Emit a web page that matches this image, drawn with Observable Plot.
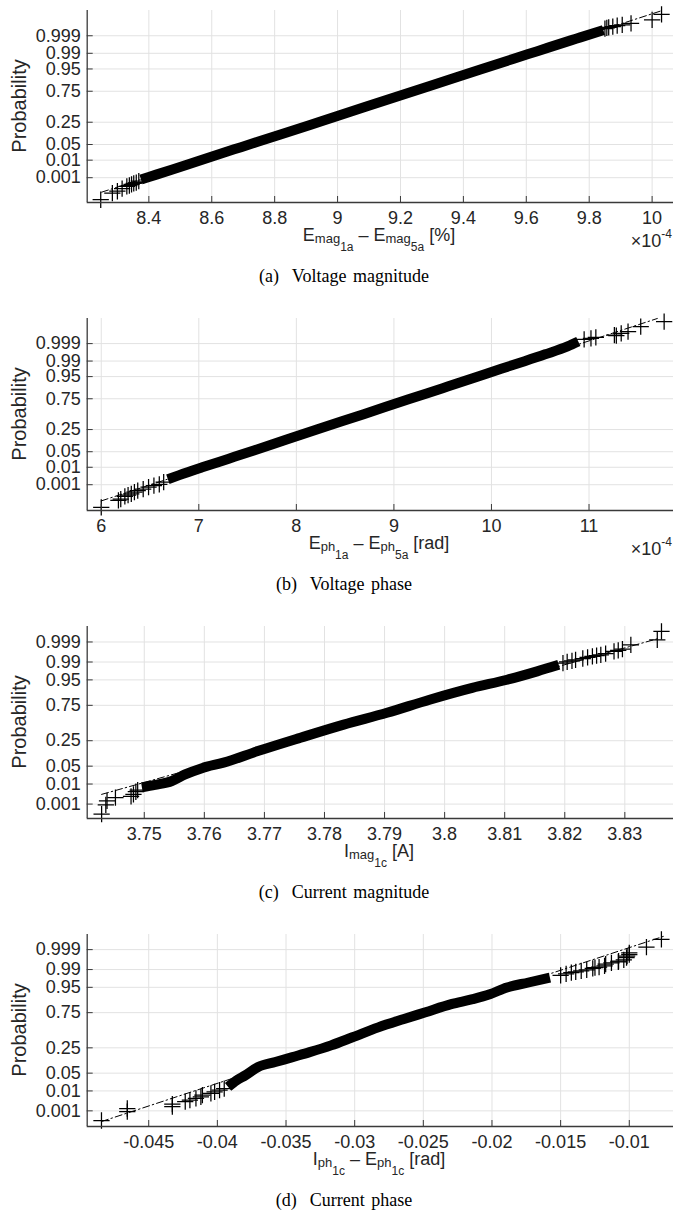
<!DOCTYPE html>
<html><head><meta charset="utf-8">
<script src="https://cdn.jsdelivr.net/npm/d3@7"></script>
<script src="https://cdn.jsdelivr.net/npm/@observablehq/plot@0.6"></script>
<style>
body{margin:0;background:#fff;width:673px;height:1212px;overflow:hidden}
.panel{position:relative;width:673px;height:308px}
.panel svg{position:absolute;left:0;top:0}
.yl{position:absolute;left:19px;top:106px;transform:translate(-50%,-50%) rotate(-90deg);font:20px "Liberation Sans",Arial,sans-serif;color:#262626;white-space:nowrap;line-height:20px}
.xl{position:absolute;top:225.5px;left:379px;transform:translateX(-50%);font:18px "Liberation Sans",Arial,sans-serif;color:#262626;white-space:nowrap;line-height:18px}
.sb{font-size:13px;position:relative;top:2px}
.ss{font-size:12px;position:relative;top:10px}
.ex{position:absolute;top:231.5px;right:1px;font:18px "Liberation Sans",Arial,sans-serif;color:#262626;white-space:nowrap;line-height:18px}
.sp{font-size:12px;position:relative;top:-9px}
.cap{position:absolute;top:266px;left:344px;transform:translateX(-50%);font:18px "Liberation Serif","Times New Roman",serif;color:#000;white-space:nowrap;line-height:20px;word-spacing:2px}
</style>
</head><body>
<div id="root"></div>
<script>
// ---------- shared y (probability) ticks ----------
const yTickProbs = [0.001, 0.01, 0.05, 0.25, 0.75, 0.95, 0.99, 0.999];
const yTickLabels = ["0.001", "0.01", "0.05", "0.25", "0.75", "0.95", "0.99", "0.999"];

// y values of the points below are normal quantiles of the plotting probability

// ---------- (a) Voltage magnitude, values in units of 1e-4 ----------
const aTicks = [8.4, 8.6, 8.8, 9, 9.2, 9.4, 9.6, 9.8, 10];
const aTickLabels = ["8.4", "8.6", "8.8", "9", "9.2", "9.4", "9.6", "9.8", "10"];
const aXLim = [8.204, 10.068];
const aYLim = [-4.17, 4.19];
const aBandX = [8.375, 8.40, 8.475, 8.555, 8.693, 8.816, 8.946, 9.089, 9.293, 9.454, 9.56, 9.635, 9.744, 9.772, 9.845];
const aBandQ = [-3.17, -3.06, -2.73, -2.37, -1.76, -1.22, -0.64, 0.0, 0.90, 1.62, 2.09, 2.42, 2.90, 3.02, 3.34];
const aTailX = [8.247, 8.284, 8.30, 8.315, 8.33, 8.338, 8.345, 8.352, 8.36, 8.368, 9.85, 9.856, 9.862, 9.875, 9.889, 9.905, 9.933, 10.0, 10.03];
const aTailQ = [-4.05, -3.76, -3.68, -3.57, -3.47, -3.43, -3.38, -3.34, -3.30, -3.24, 3.40, 3.43, 3.46, 3.49, 3.53, 3.56, 3.63, 3.78, 4.02];
const aRefX = [8.25, 10.03];
const aRefQ = [-3.72, 4.18];

// ---------- (b) Voltage phase, values in units of 1e-4 ----------
const bTicks = [6, 7, 8, 9, 10, 11];
const bTickLabels = ["6", "7", "8", "9", "10", "11"];
const bXLim = [5.856, 11.866];
const bYLim = [-4.22, 4.19];
const bBandX = [6.683, 6.80, 7.035, 7.30, 7.564, 7.90, 8.225, 8.69, 9.15, 9.50, 9.855, 10.10, 10.34, 10.55, 10.78, 10.89];
const bBandQ = [-2.85, -2.67, -2.33, -1.96, -1.59, -1.11, -0.65, 0.0, 0.65, 1.14, 1.64, 1.99, 2.32, 2.62, 2.97, 3.18];
const bTailX = [6.0, 6.176, 6.20, 6.242, 6.275, 6.308, 6.34, 6.374, 6.43, 6.485, 6.54, 6.595, 6.64, 10.95, 11.02, 11.07, 11.26, 11.28, 11.33, 11.40, 11.53, 11.77];
const bTailQ = [-4.08, -3.78, -3.72, -3.60, -3.55, -3.49, -3.42, -3.35, -3.28, -3.20, -3.13, -3.08, -2.98, 3.28, 3.32, 3.36, 3.46, 3.44, 3.54, 3.61, 3.83, 4.05];
const bRefX = [6.0, 11.70];
const bRefQ = [-3.80, 4.19];

// ---------- (c) Current magnitude [A] ----------
const cTicks = [3.75, 3.76, 3.77, 3.78, 3.79, 3.8, 3.81, 3.82, 3.83];
const cTickLabels = ["3.75", "3.76", "3.77", "3.78", "3.79", "3.8", "3.81", "3.82", "3.83"];
const cXLim = [3.7405, 3.8381];
const cYLim = [-3.64, 3.68];
const cBandX = [3.7496, 3.7518, 3.7546, 3.7568, 3.7596, 3.7632, 3.7689, 3.776, 3.7832, 3.7904, 3.7975, 3.8046, 3.8104, 3.8154, 3.819];
const cBandQ = [-2.45, -2.36, -2.21, -1.96, -1.72, -1.51, -1.07, -0.56, -0.06, 0.39, 0.89, 1.34, 1.65, 1.97, 2.22];
const cTailX = [3.7429, 3.7436, 3.7438, 3.7452, 3.7478, 3.7482, 3.7486, 3.7489, 3.8197, 3.8204, 3.8212, 3.8218, 3.823, 3.8238, 3.8246, 3.8253, 3.826, 3.8268, 3.8282, 3.8289, 3.8296, 3.831, 3.8354, 3.8361];
const cTailQ = [-3.47, -3.12, -2.97, -2.84, -2.80, -2.72, -2.62, -2.56, 2.28, 2.33, 2.37, 2.41, 2.46, 2.50, 2.54, 2.57, 2.60, 2.65, 2.73, 2.77, 2.82, 2.98, 3.17, 3.49];
const cRefX = [3.7429, 3.8357];
const cRefQ = [-2.72, 3.23];

// ---------- (d) Current phase [rad] ----------
const dTicks = [-0.045, -0.04, -0.035, -0.03, -0.025, -0.02, -0.015, -0.01];
const dTickLabels = ["-0.045", "-0.04", "-0.035", "-0.03", "-0.025", "-0.02", "-0.015", "-0.01"];
const dXLim = [-0.04948, -0.00678];
const dYLim = [-3.69, 3.67];
const dBandX = [-0.03922, -0.0386, -0.03797, -0.03703, -0.03578, -0.03453, -0.03328, -0.03172, -0.03016, -0.02828, -0.02641, -0.02484, -0.02297, -0.02141, -0.02016, -0.01891, -0.01734, -0.01578];
const dBandQ = [-2.17, -1.92, -1.73, -1.41, -1.22, -1.03, -0.84, -0.58, -0.27, 0.11, 0.43, 0.69, 1.0, 1.19, 1.38, 1.64, 1.83, 2.02];
const dTailX = [-0.04844, -0.04656, -0.04656, -0.04328, -0.04328, -0.04234, -0.0420, -0.04156, -0.0412, -0.04109, -0.04047, -0.0402, -0.03984, -0.0395, -0.0150, -0.0146, -0.01422, -0.0139, -0.0135, -0.0131, -0.01266, -0.0125, -0.0122, -0.0118, -0.01172, -0.0113, -0.0108, -0.01078, -0.0104, -0.0102, -0.01016, -0.0100, -0.01, -0.00875, -0.00766];
const dTailQ = [-3.46, -3.12, -3.0, -2.93, -2.83, -2.74, -2.68, -2.61, -2.55, -2.49, -2.42, -2.36, -2.30, -2.24, 2.10, 2.16, 2.21, 2.24, 2.28, 2.31, 2.37, 2.40, 2.42, 2.47, 2.53, 2.58, 2.62, 2.65, 2.70, 2.78, 2.84, 2.90, 2.97, 3.19, 3.48];
const dRefX = [-0.04844, -0.0075];
const dRefQ = [-3.50, 3.60];

// inverse standard normal CDF (probability scale transform)
function probit(p) {
  const a=[-3.969683028665376e+01,2.209460984245205e+02,-2.759285104469687e+02,1.383577518672690e+02,-3.066479806614716e+01,2.506628277459239e+00];
  const b=[-5.447609879822406e+01,1.615858368580409e+02,-1.556989798598866e+02,6.680131188771972e+01,-1.328068155288572e+01];
  const c=[-7.784894002430293e-03,-3.223964580411365e-01,-2.400758277161838e+00,-2.549732539343734e+00,4.374664141464968e+00,2.938163982698783e+00];
  const d=[7.784695709041462e-03,3.224671290700398e-01,2.445134137142996e+00,3.754408661907416e+00];
  const pl = 0.02425;
  if (p < pl) { const q = Math.sqrt(-2*Math.log(p)); return (((((c[0]*q+c[1])*q+c[2])*q+c[3])*q+c[4])*q+c[5])/((((d[0]*q+d[1])*q+d[2])*q+d[3])*q+1); }
  if (p <= 1 - pl) { const q = p - 0.5, r = q*q; return (((((a[0]*r+a[1])*r+a[2])*r+a[3])*r+a[4])*r+a[5])*q/(((((b[0]*r+b[1])*r+b[2])*r+b[3])*r+b[4])*r+1); }
  const q = Math.sqrt(-2*Math.log(1-p)); return -(((((c[0]*q+c[1])*q+c[2])*q+c[3])*q+c[4])*q+c[5])/((((d[0]*q+d[1])*q+d[2])*q+d[3])*q+1);
}

const FONT = '"Liberation Sans", Arial, sans-serif';
const AX = "#3a3a3a", TXT = "#262626", GRID = "#e2e2e2";

function makePanel(cfg) {
  const pts = (xs, qs) => xs.map((x, i) => ({x, q: qs[i]}));
  const band = pts(cfg.bandX, cfg.bandQ);
  const tail = pts(cfg.tailX, cfg.tailQ);
  const ref = pts(cfg.refX, cfg.refQ);
  const yT = yTickProbs.map(probit);
  const yLab = new Map(yT.map((z, i) => [z, yTickLabels[i]]));
  const xLab = new Map(cfg.ticks.map((t, i) => [t, cfg.tickLabels[i]]));
  const svg = Plot.plot({
    width: 673, height: 232,
    marginTop: 10, marginBottom: 30, marginLeft: 86.7, marginRight: 0,
    style: {fontFamily: FONT, fontSize: "18px", background: "transparent", overflow: "visible"},
    x: {domain: cfg.xLim},
    y: {domain: cfg.yLim},
    marks: [
      Plot.gridX({ticks: cfg.ticks, stroke: GRID, strokeOpacity: 1, strokeWidth: 1}),
      Plot.gridY({ticks: yT, stroke: GRID, strokeOpacity: 1, strokeWidth: 1}),
      Plot.line(ref, {x: "x", y: "q", stroke: "black", strokeWidth: 1, strokeDasharray: "7,3,1.5,3"}),
      Plot.line(band, {x: "x", y: "q", stroke: "black", strokeWidth: 10, strokeLinecap: "butt", curve: "monotone-x"}),
      Plot.dot(tail, {x: "x", y: "q", symbol: "plus", r: 5.3, stroke: "black", strokeWidth: 1.25}),
      Plot.ruleX([cfg.xLim[0]], {stroke: AX, strokeWidth: 1.3}),
      Plot.ruleY([cfg.yLim[0]], {stroke: AX, strokeWidth: 1.3}),
      Plot.axisX({ticks: cfg.ticks, tickSize: 0, tickPadding: 8.5, tickFormat: d => xLab.get(d), fill: TXT, label: null, fontSize: 18}),
      Plot.axisX({ticks: cfg.ticks, tickSize: 6, dy: -6, tickFormat: () => "", stroke: AX, label: null}),
      Plot.axisY({ticks: yT, tickSize: 0, tickPadding: 6.5, tickFormat: d => yLab.get(d), fill: TXT, label: null, fontSize: 18}),
      Plot.axisY({ticks: yT, tickSize: 6, dx: 6, tickFormat: () => "", stroke: AX, label: null})
    ]
  });
  const div = document.createElement("div");
  div.className = "panel";
  if (cfg.h) div.style.height = cfg.h + "px";
  div.appendChild(svg);
  div.insertAdjacentHTML("beforeend",
    `<div class="yl">Probability</div>` +
    `<div class="xl">${cfg.xlabel}</div>` +
    (cfg.exp ? `<div class="ex">×10<span class="sp">${cfg.exp}</span></div>` : "") +
    `<div class="cap">${cfg.caption}</div>`);
  document.getElementById("root").appendChild(div);
}

makePanel({ticks: aTicks, tickLabels: aTickLabels, xLim: aXLim, yLim: aYLim,
  bandX: aBandX, bandQ: aBandQ, tailX: aTailX, tailQ: aTailQ, refX: aRefX, refQ: aRefQ,
  xlabel: 'E<span class="sb">mag</span><span class="ss">1a</span> – E<span class="sb">mag</span><span class="ss">5a</span> [%]',
  exp: "-4", caption: "(a)&nbsp; Voltage magnitude"});
makePanel({ticks: bTicks, tickLabels: bTickLabels, xLim: bXLim, yLim: bYLim,
  bandX: bBandX, bandQ: bBandQ, tailX: bTailX, tailQ: bTailQ, refX: bRefX, refQ: bRefQ,
  xlabel: 'E<span class="sb">ph</span><span class="ss">1a</span> – E<span class="sb">ph</span><span class="ss">5a</span> [rad]',
  exp: "-4", caption: "(b)&nbsp; Voltage phase"});
makePanel({ticks: cTicks, tickLabels: cTickLabels, xLim: cXLim, yLim: cYLim,
  bandX: cBandX, bandQ: cBandQ, tailX: cTailX, tailQ: cTailQ, refX: cRefX, refQ: cRefQ,
  xlabel: 'I<span class="sb">mag</span><span class="ss">1c</span> [A]',
  exp: null, caption: "(c)&nbsp; Current magnitude"});
makePanel({ticks: dTicks, tickLabels: dTickLabels, xLim: dXLim, yLim: dYLim,
  bandX: dBandX, bandQ: dBandQ, tailX: dTailX, tailQ: dTailQ, refX: dRefX, refQ: dRefQ,
  xlabel: 'I<span class="sb">ph</span><span class="ss">1c</span> – E<span class="sb">ph</span><span class="ss">1c</span> [rad]',
  exp: null, caption: "(d)&nbsp; Current phase", h: 288});
</script>
</body></html>
